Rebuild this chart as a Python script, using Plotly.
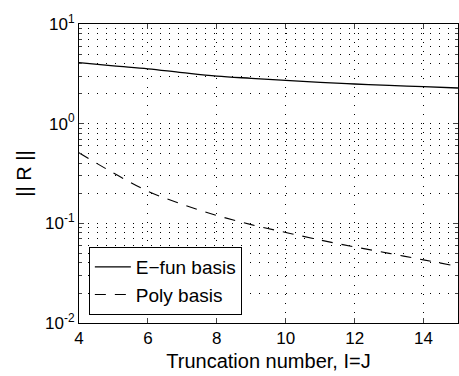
import plotly.graph_objects as go

n = [4, 5, 6, 7, 8, 9, 10, 11, 12, 13, 14, 15]
efun = [4.1, 3.8, 3.55, 3.25, 3.0, 2.85, 2.72, 2.6, 2.5, 2.42, 2.35, 2.28]
poly = [0.51, 0.32, 0.21, 0.155, 0.12, 0.097, 0.081, 0.068, 0.058, 0.05, 0.043, 0.037]
xticks = [4, 6, 8, 10, 12, 14]
yticks = [0.01, 0.1, 1, 10]
yticktext = ["10<sup>-2</sup>", "10<sup>-1</sup>", "10<sup>0</sup>", "10<sup>1</sup>"]

fig = go.Figure()
fig.add_trace(go.Scatter(x=n, y=efun, mode="lines", name="E\u2212fun basis",
                         line=dict(color="black", width=1.3), line_shape="spline"))
fig.add_trace(go.Scatter(x=n, y=poly, mode="lines", name="Poly basis",
                         line=dict(color="black", width=1.1, dash="11px,9px"), line_shape="spline"))

font = dict(family="Liberation Sans, Arial, sans-serif", size=17, color="black")
grid = dict(showgrid=True, gridcolor="black", griddash="1px,8px", gridwidth=1)
fig.update_layout(
    width=459, height=376,
    margin=dict(l=79, r=1, t=24, b=53),
    paper_bgcolor="white", plot_bgcolor="white",
    font=font,
    showlegend=True,
    legend=dict(x=0.026, y=0.027, xanchor="left", yanchor="bottom",
                bgcolor="white", bordercolor="black", borderwidth=1,
                font=dict(size=19), tracegroupgap=0, itemwidth=36,
                entrywidth=175, entrywidthmode="pixels"),
    xaxis=dict(range=[4, 15], tickvals=xticks, ticks="inside", ticklen=5,
               showline=True, linecolor="black", linewidth=1, mirror="ticks",
               zeroline=False, title=dict(text="Truncation number, I=J", standoff=6),
               **grid),
    yaxis=dict(type="log", range=[-2, 1], tickvals=yticks, ticktext=yticktext,
               ticks="inside", ticklen=5,
               showline=True, linecolor="black", linewidth=1, mirror="ticks",
               minor=dict(dtick="D1", ticks="inside", ticklen=3, **grid),
               zeroline=False, title=dict(text="|| R ||", standoff=8),
               **grid),
)
fig.write_html("out.html")
